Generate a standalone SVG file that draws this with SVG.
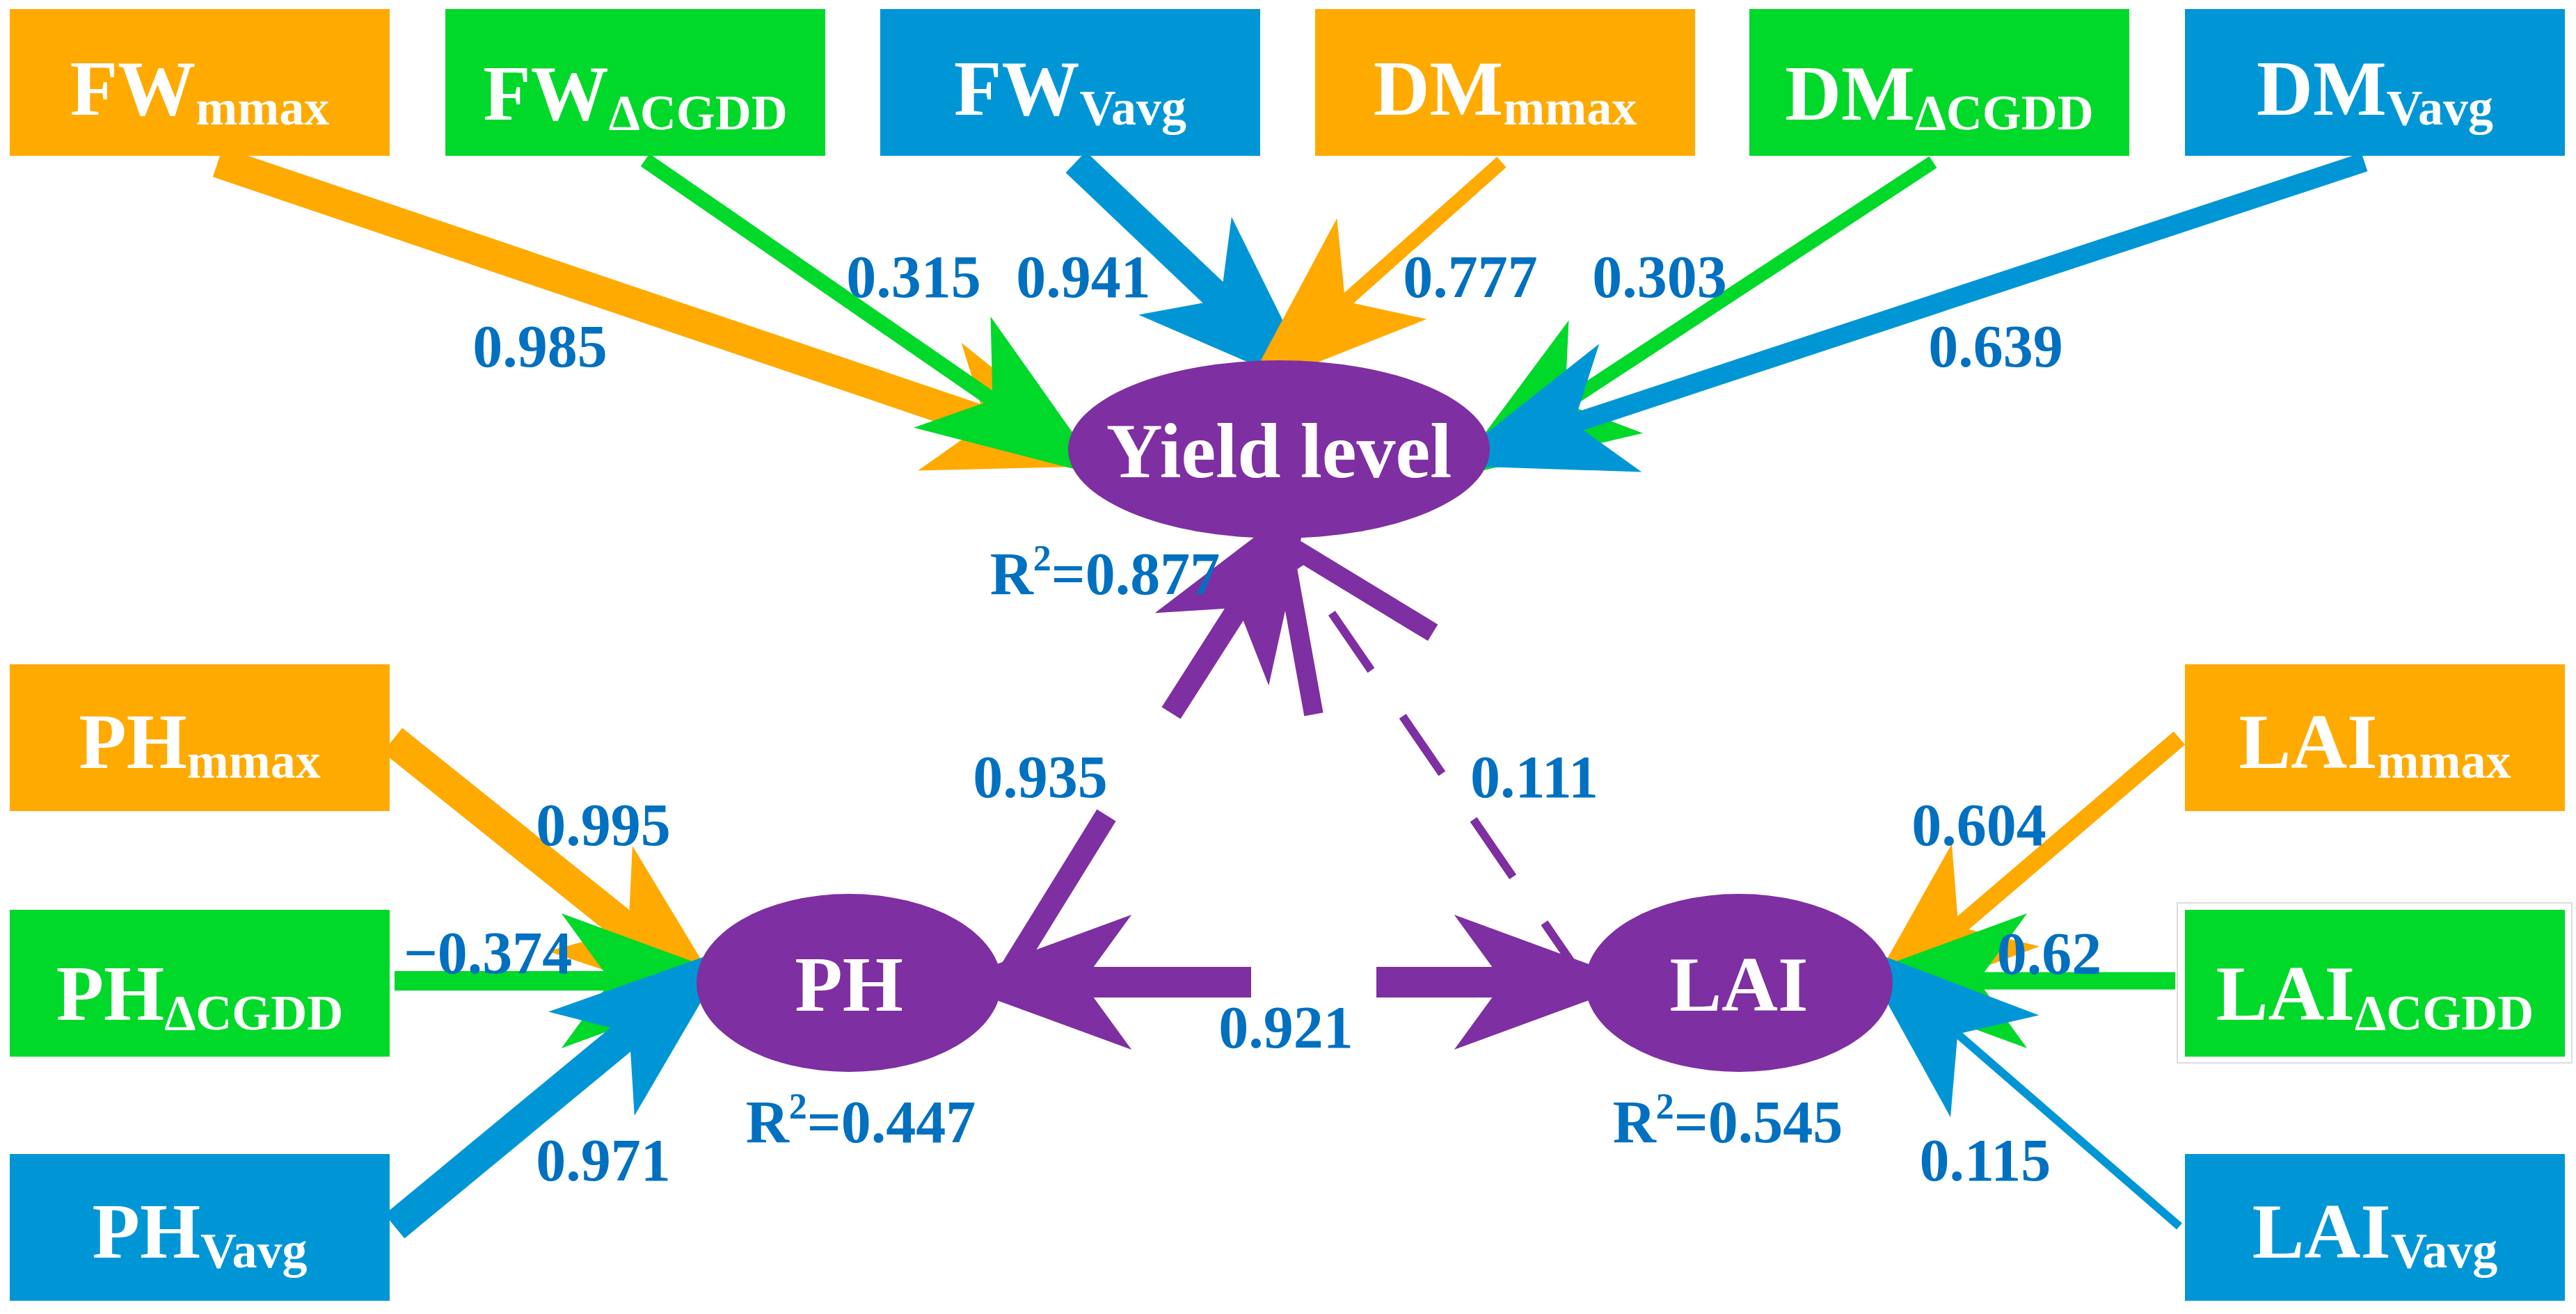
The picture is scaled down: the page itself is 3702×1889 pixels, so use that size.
<svg xmlns="http://www.w3.org/2000/svg" width="3702" height="1889" viewBox="0 0 3702 1889">
<style>
.o{fill:#FFAA00}.g{fill:#00D82A}.b{fill:#0096D6}.p{fill:#7E2FA1}
.bt{font-family:"Liberation Serif",serif;font-weight:bold;font-size:112px;fill:#fff;text-anchor:middle}
.sb{font-size:72px}
.lb{font-family:"Liberation Serif",serif;font-weight:bold;font-size:86px;fill:#0070C0;text-anchor:middle}
.nt{font-family:"Liberation Serif",serif;font-weight:bold;font-size:112px;fill:#fff;text-anchor:middle}
.so{stroke:#FFAA00;fill:none}.sg{stroke:#00D82A;fill:none}.sbl{stroke:#0096D6;fill:none}.sp{stroke:#7E2FA1;fill:none}
</style>
<defs>
<marker id="ho" markerUnits="userSpaceOnUse" orient="auto" refX="0" refY="0" markerWidth="300" markerHeight="300" viewBox="-60 -70 170 140" overflow="visible"><path d="M100,0 L-50,-55 L-10,0 L-50,55 Z" fill="#FFAA00"/></marker>
<marker id="hg" markerUnits="userSpaceOnUse" orient="auto" refX="0" refY="0" markerWidth="300" markerHeight="300" viewBox="-60 -70 170 140" overflow="visible"><path d="M100,0 L-50,-55 L-10,0 L-50,55 Z" fill="#00D82A"/></marker>
<marker id="hb" markerUnits="userSpaceOnUse" orient="auto" refX="0" refY="0" markerWidth="300" markerHeight="300" viewBox="-60 -70 170 140" overflow="visible"><path d="M100,0 L-50,-55 L-10,0 L-50,55 Z" fill="#0096D6"/></marker>
<marker id="hp" markerUnits="userSpaceOnUse" orient="auto" refX="0" refY="0" markerWidth="300" markerHeight="300" viewBox="-60 -70 170 140" overflow="visible"><path d="M100,0 L-50,-55 L-10,0 L-50,55 Z" fill="#7E2FA1"/></marker>
<marker id="hv" markerUnits="userSpaceOnUse" orient="auto" refX="0" refY="0" markerWidth="300" markerHeight="300" viewBox="-110 -60 130 120" overflow="visible"><path d="M-100,-45 L0,0 L-100,45" fill="none" stroke="#7E2FA1" stroke-width="12"/></marker>
</defs>
<rect width="3702" height="1889" fill="#fff"/>
<g id="connectors">
<line class="so" x1="313" y1="233" x2="1434" y2="613" stroke-width="45" marker-end="url(#ho)"/>
<line class="sg" x1="927" y1="230" x2="1441" y2="585" stroke-width="22" marker-end="url(#hg)"/>
<line class="sbl" x1="1546" y1="233" x2="1767" y2="443" stroke-width="42" marker-end="url(#hb)"/>
<line class="so" x1="2158" y1="233" x2="1920" y2="445" stroke-width="20" marker-end="url(#ho)"/>
<line class="sg" x1="2778" y1="233" x2="2234" y2="590" stroke-width="20" marker-end="url(#hg)"/>
<line class="sbl" x1="3398" y1="233" x2="2245" y2="614" stroke-width="28" marker-end="url(#hb)"/>
<line class="so" x1="564" y1="1064" x2="917" y2="1347" stroke-width="45" marker-end="url(#ho)"/>
<line class="sg" x1="567" y1="1410" x2="895" y2="1410" stroke-width="28" marker-end="url(#hg)"/>
<line class="sbl" x1="567" y1="1763" x2="918" y2="1473" stroke-width="45" marker-end="url(#hb)"/>
<line class="so" x1="3132" y1="1061" x2="2801" y2="1344" stroke-width="25" marker-end="url(#ho)"/>
<line class="sg" x1="3126" y1="1410" x2="2825" y2="1410" stroke-width="25" marker-end="url(#hg)"/>
<line class="sbl" x1="3132" y1="1763" x2="2800" y2="1475" stroke-width="12" marker-end="url(#hb)"/>
<line class="sp" x1="1438" y1="1418" x2="1590" y2="1172" stroke-width="32"/>
<line class="sp" x1="1683" y1="1025" x2="1789" y2="859" stroke-width="32" marker-end="url(#hp)"/>
<line class="sp" x1="1798" y1="1412" x2="1538" y2="1412" stroke-width="44" marker-end="url(#hp)"/>
<line class="sp" x1="1978" y1="1412" x2="2178" y2="1412" stroke-width="44" marker-end="url(#hp)"/>
<line class="sp" x1="2276" y1="1409" x2="1843" y2="778" stroke-width="12" stroke-dasharray="100 80" marker-end="url(#hv)"/>
</g>
<g id="FWmmax"><rect class="o" x="14" y="13" width="546" height="211"/><text class="bt" x="287" y="165">FW<tspan class="sb" dy="14">mmax</tspan></text></g>
<g id="FWdCGDD"><rect class="g" x="640" y="13" width="546" height="211"/><text class="bt" x="913" y="172">FW<tspan class="sb" dy="14">ΔCGDD</tspan></text></g>
<g id="FWVavg"><rect class="b" x="1265" y="13" width="546" height="211"/><text class="bt" x="1538" y="165">FW<tspan class="sb" dy="14">Vavg</tspan></text></g>
<g id="DMmmax"><rect class="o" x="1890" y="13" width="546" height="211"/><text class="bt" x="2163" y="165">DM<tspan class="sb" dy="14">mmax</tspan></text></g>
<g id="DMdCGDD"><rect class="g" x="2514" y="13" width="546" height="211"/><text class="bt" x="2787" y="172">DM<tspan class="sb" dy="14">ΔCGDD</tspan></text></g>
<g id="DMVavg"><rect class="b" x="3140" y="13" width="546" height="211"/><text class="bt" x="3413" y="165">DM<tspan class="sb" dy="14">Vavg</tspan></text></g>
<g id="PHmmax"><rect class="o" x="14" y="955" width="546" height="211"/><text class="bt" x="287" y="1104">PH<tspan class="sb" dy="14">mmax</tspan></text></g>
<g id="PHdCGDD"><rect class="g" x="14" y="1308" width="546" height="211"/><text class="bt" x="287" y="1466">PH<tspan class="sb" dy="14">ΔCGDD</tspan></text></g>
<g id="PHVavg"><rect class="b" x="14" y="1659" width="546" height="211"/><text class="bt" x="287" y="1808">PH<tspan class="sb" dy="14">Vavg</tspan></text></g>
<g id="LAImmax"><rect class="o" x="3140" y="955" width="546" height="211"/><text class="bt" x="3413" y="1104">LAI<tspan class="sb" dy="14">mmax</tspan></text></g>
<g id="LAIdCGDD"><rect x="3129" y="1298" width="567" height="230" fill="#fff" stroke="#ddd" stroke-width="2"/><rect class="g" x="3140" y="1308" width="546" height="211"/><text class="bt" x="3413" y="1466">LAI<tspan class="sb" dy="14">ΔCGDD</tspan></text></g>
<g id="LAIVavg"><rect class="b" x="3140" y="1659" width="546" height="211"/><text class="bt" x="3413" y="1808">LAI<tspan class="sb" dy="14">Vavg</tspan></text></g>
<g id="Yield"><ellipse class="p" cx="1838" cy="646" rx="303" ry="128"/><text class="nt" x="1838" y="686">Yield level</text></g>
<g id="PH"><ellipse class="p" cx="1220" cy="1413" rx="219" ry="128"/><text class="nt" x="1220" y="1453">PH</text></g>
<g id="LAI"><ellipse class="p" cx="2499" cy="1413" rx="221" ry="128"/><text class="nt" x="2499" y="1453">LAI</text></g>
<g id="labels">
<text class="lb" x="776" y="527">0.985</text>
<text class="lb" x="1313" y="427">0.315</text>
<text class="lb" x="1557" y="427">0.941</text>
<text class="lb" x="2113" y="427">0.777</text>
<text class="lb" x="2385" y="427">0.303</text>
<text class="lb" x="2868" y="527">0.639</text>
<text class="lb" x="1588" y="854">R<tspan font-size="52" dy="-34">2</tspan><tspan dy="34">=0.877</tspan></text>
<text class="lb" x="1495" y="1146">0.935</text>
<text class="lb" x="2205" y="1146">0.111</text>
<text class="lb" x="867" y="1215">0.995</text>
<text class="lb" x="701" y="1399">−0.374</text>
<text class="lb" x="867" y="1697">0.971</text>
<text class="lb" x="1237" y="1642">R<tspan font-size="52" dy="-34">2</tspan><tspan dy="34">=0.447</tspan></text>
<text class="lb" x="1848" y="1506">0.921</text>
<text class="lb" x="2844" y="1215">0.604</text>
<text class="lb" x="2945" y="1400">0.62</text>
<text class="lb" x="2483" y="1642">R<tspan font-size="52" dy="-34">2</tspan><tspan dy="34">=0.545</tspan></text>
<text class="lb" x="2853" y="1697">0.115</text>
</g>
</svg>
